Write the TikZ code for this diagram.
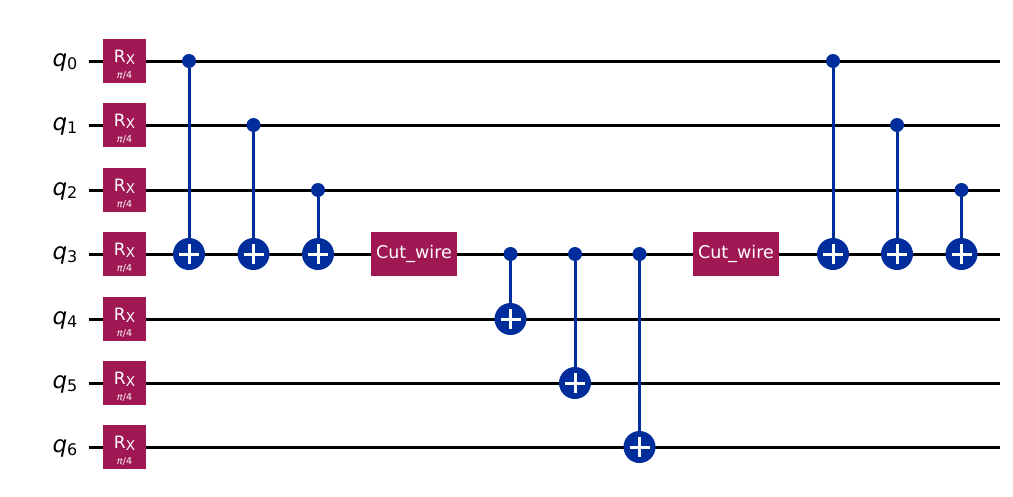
\documentclass[tikz,border=0pt]{standalone}
\usepackage{fontspec}
\setmainfont{DejaVu Sans}
\usepackage{xcolor}
\usetikzlibrary{positioning}
\definecolor{gateblue}{HTML}{002D9C}
\definecolor{gatered}{HTML}{9F1853}
\newcommand{\sized}[1]{\fontsize{#1}{#1}\selectfont}
\newcommand{\qubit}[1]{\sized{23}\textit{q}\raisebox{-3.5pt}{\sized{16}#1}}
\tikzset{
    wire/.style={black, line width=3pt},
    link/.style={gateblue, line width=3pt},
    rxgate/.style={fill=gatered, text=white, minimum width=43.5pt, minimum height=44pt, inner sep=0pt, align=center},
    cutgate/.style={rxgate, minimum width=86pt, font=\sized{17.5}},
    ctrl/.style={shape=circle, fill=gateblue, minimum size=14pt, inner sep=0pt},
    target/.style={shape=circle, fill=gateblue, minimum size=32pt, inner sep=0pt,
        path picture={\draw[white, line width=3pt]
            (path picture bounding box.center) +(-10pt,0) -- +(10pt,0)
            (path picture bounding box.center) +(0,-10pt) -- +(0,10pt);}},
}
\begin{document}
\begin{tikzpicture}[x=1pt, y=-1pt]
        \useasboundingbox (0,0) rectangle (1013,496);
        % wires, labels and rotation gates
        \foreach \i/\y in {0/61,1/125,2/190,3/254,4/319,5/383,6/447} {
            \coordinate (w\i) at (89,\y);
            \coordinate (e\i) at (1000,\y);
            \draw[wire] (w\i) -- (e\i);
            \node[anchor=east, inner sep=0pt] (q\i) at (77.5,\y+1) {\qubit{\i}};
            \node[rxgate] (rx\i) at (124.5,\y) {};
            \node[text=white, inner sep=0pt, font=\sized{17}] (rxname\i) at (124.5,\y-4) {R\raisebox{-2pt}{\sized{13.5}X}};
            \node[text=white, inner sep=0pt, font=\sized{9.5}] (rxangle\i) at (124.5,\y+14) {\textit{π}/4};
        }
        \node[cutgate] (cutA) at (414,254) {Cut\_wire};
        \node[cutgate] (cutB) at (736,254) {Cut\_wire};
        % controlled gates
        \foreach \name/\x/\c/\t in {a/189/0/3, b/253.5/1/3, c/318/2/3, d/510.5/3/4, e/575/3/5, f/639.5/3/6, g/833/0/3, h/897/1/3, k/961.5/2/3} {
            \path (w\c) -- ++(\x-89,0) node[ctrl] (c\name) {};
            \path (w\t) -- ++(\x-89,0) node[target] (t\name) {};
            \draw[link] (c\name) -- (t\name);
        }
    \end{tikzpicture}
\end{document}
